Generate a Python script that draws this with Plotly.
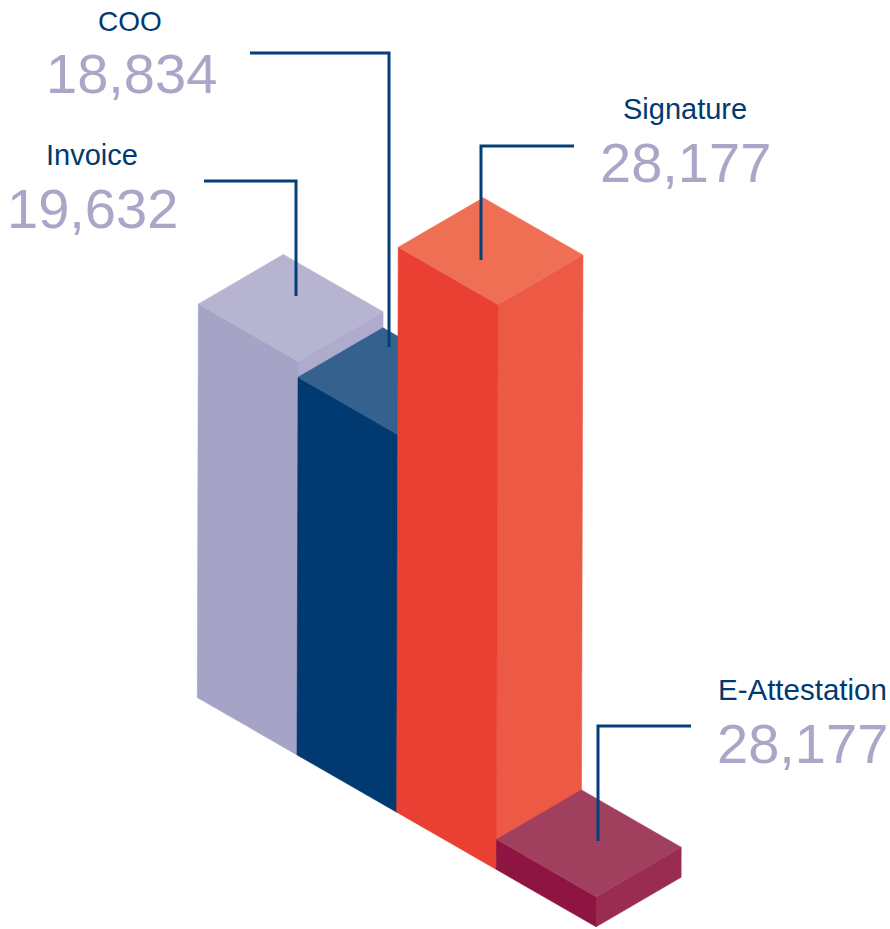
import plotly.graph_objects as go

categories = ["Invoice", "COO", "Signature", "E-Attestation"]
value_labels = ["19,632", "18,834", "28,177", "28,177"]
# Drawn bar heights (E-Attestation is drawn far shorter than its label)
bar_values = [19632, 18834, 28177, 1500]
front_colors = ["#A6A4C6", "#003A70", "#EA4033", "#8E1541"]
top_colors = ["#B7B4D2", "#34618D", "#EF6F55", "#A1405E"]
side_colors = ["#AEABCC", "#2A5683", "#EC5944", "#992C50"]

NAVY = "#034078"
MUTED = "#A9A7C8"
SCALE = 0.02005
ORIGIN = (197.3, 697.6)
STEP = (99.7, 57.3)
DEPTH = (85.0, -49.5)
SKEW = 0.0027  # slight lean of the verticals in the artwork


def project(i, d, value):
    h = value * SCALE
    return (ORIGIN[0] + STEP[0] * i + DEPTH[0] * d + SKEW * h,
            ORIGIN[1] + STEP[1] * i + DEPTH[1] * d - h)


def poly(fig, pts, fill, line):
    xs = [p[0] for p in pts] + [pts[0][0]]
    ys = [p[1] for p in pts] + [pts[0][1]]
    fig.add_trace(go.Scatter(x=xs, y=ys, mode="lines", fill="toself", fillcolor=fill,
                             line=dict(color=line, width=0.6), hoverinfo="skip", showlegend=False))


fig = go.Figure()
for i, v in enumerate(bar_values):
    side = [project(i + 1, 0, v), project(i + 1, 1, v), project(i + 1, 1, 0), project(i + 1, 0, 0)]
    top = [project(i, 0, v), project(i, 1, v), project(i + 1, 1, v), project(i + 1, 0, v)]
    front = [project(i, 0, v), project(i + 1, 0, v), project(i + 1, 0, 0), project(i, 0, 0)]
    poly(fig, side, side_colors[i], side_colors[i])
    poly(fig, front, front_colors[i], front_colors[i])
    poly(fig, top, top_colors[i], top_colors[i])

# leader lines: start of the elbow, elbow, and the end lying on the bar top
leader_x = [[204, 296, 296], [250, 389, 389], [574, 481, 481], [691, 598, 598]]
leader_y = [[181, 181, 296], [53, 53, 347], [146, 146, 260], [726, 726, 841]]
for xs, ys in zip(leader_x, leader_y):
    fig.add_trace(go.Scatter(x=xs, y=ys, mode="lines", line=dict(color=NAVY, width=3),
                             hoverinfo="skip", showlegend=False))

name_pos = [(92, 155), (130, 21), (685, 109), (802, 689)]
value_pos = [(92, 208), (131, 73), (685, 162), (802, 743)]
name_sizes = [29, 28, 29, 29.5]
for i, name in enumerate(categories):
    fig.add_annotation(x=name_pos[i][0], y=name_pos[i][1], text=name, showarrow=False,
                       xanchor="center", yanchor="middle",
                       font=dict(family="Liberation Sans", size=name_sizes[i], color="#003A70"))
    fig.add_annotation(x=value_pos[i][0], y=value_pos[i][1], text=value_labels[i], showarrow=False,
                       xanchor="center", yanchor="middle",
                       font=dict(family="Liberation Sans", size=56, color=MUTED))

fig.update_xaxes(range=[0, 890], visible=False, fixedrange=True)
fig.update_yaxes(range=[929, 0], visible=False, fixedrange=True)
fig.update_layout(width=890, height=929, margin=dict(l=0, r=0, t=0, b=0),
                  paper_bgcolor="white", plot_bgcolor="white", showlegend=False)
fig.write_html("out.html", config={"displayModeBar": False},
               post_script="document.body.style.margin='0';document.documentElement.style.overflow='hidden';")
